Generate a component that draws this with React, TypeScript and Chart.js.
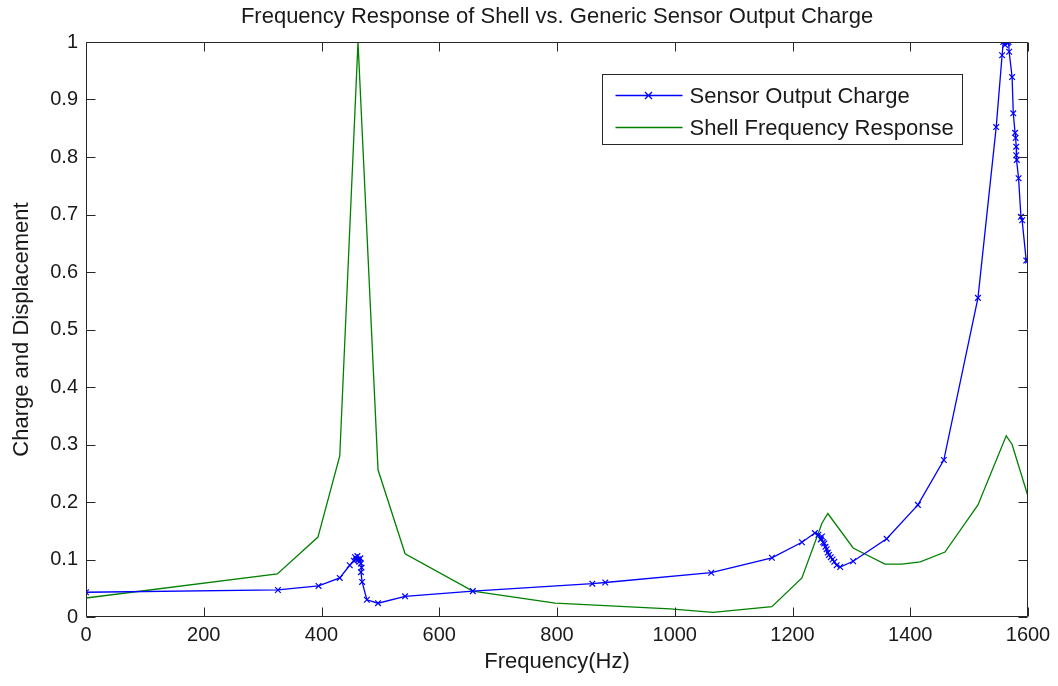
import { useEffect, useRef } from "react";
import { Chart, registerables } from "chart.js";

Chart.register(...registerables);

const TITLE = "Frequency Response of Shell vs. Generic Sensor Output Charge";
const X_TITLE = "Frequency(Hz)";
const Y_TITLE = "Charge and Displacement";
const SENSOR_LABEL = "Sensor Output Charge";
const SHELL_LABEL = "Shell Frequency Response";

const xTickValues = [0, 200, 400, 600, 800, 1000, 1200, 1400, 1600];
const yTickValues = [0, 0.1, 0.2, 0.3, 0.4, 0.5, 0.6, 0.7, 0.8, 0.9, 1];

const sensorFreq = [
  0, 326, 395, 431, 448, 455, 457, 459, 461, 463, 464, 466, 467, 468, 467, 469, 477, 496, 542, 657,
  860, 882, 1062, 1165, 1216, 1238, 1244, 1248, 1250, 1252, 1254, 1256, 1258, 1260, 1262, 1265, 1268,
  1271, 1275, 1281, 1303, 1360, 1413, 1457, 1515, 1546, 1556, 1558, 1561, 1563, 1565, 1567, 1568,
  1573, 1575, 1578, 1579, 1580, 1580, 1581, 1584, 1588, 1590, 1597, 1600,
];
const sensorCharge = [
  0.043, 0.047, 0.054, 0.068, 0.09, 0.098, 0.104, 0.1, 0.106, 0.1, 0.096, 0.102, 0.093, 0.086, 0.078,
  0.061, 0.03, 0.024, 0.036, 0.045, 0.058, 0.06, 0.077, 0.103, 0.13, 0.146, 0.143, 0.135, 0.14, 0.13,
  0.128, 0.122, 0.118, 0.112, 0.108, 0.104, 0.1, 0.096, 0.09, 0.087, 0.097, 0.136, 0.195, 0.273, 0.555,
  0.852, 0.977, 1.0, 0.995, 1.0, 0.998, 1.0, 0.983, 0.939, 0.876, 0.842, 0.833, 0.818, 0.803, 0.795,
  0.763, 0.696, 0.69, 0.62, 0.62,
];

const shellFreq = [
  0, 325, 394, 431, 462, 496, 542, 657, 797, 992, 1065, 1165, 1216, 1250, 1260, 1303, 1357, 1386, 1417,
  1459, 1515, 1563, 1573, 1600,
];
const shellResp = [
  0.033, 0.075, 0.139, 0.28, 1.0, 0.256, 0.11, 0.045, 0.024, 0.014, 0.008, 0.018, 0.068, 0.163, 0.18,
  0.12, 0.092, 0.092, 0.096, 0.113, 0.195, 0.315, 0.3, 0.21,
];

const FONT = "'Liberation Sans', Arial, Helvetica, sans-serif";
const TEXT = "#1a1a1a";
const AXIS = "#262626";
const BLUE = "#0000ff";
const GREEN = "#008000";

const matlabAxes = {
  id: "matlabAxes",
  afterDraw(chart: any) {
    const { ctx, chartArea: a, scales } = chart;
    const xs = scales.x;
    const ys = scales.y;
    const L = Math.round(a.left) + 0.5;
    const R = Math.round(a.right) - 0.5;
    const T = Math.round(a.top) + 0.5;
    const B = Math.round(a.bottom) - 0.5;
    const tick = 9;
    ctx.save();

    // title, centred over the axes
    ctx.fillStyle = TEXT;
    ctx.font = `22px ${FONT}`;
    ctx.textAlign = "center";
    ctx.textBaseline = "middle";
    ctx.fillText(TITLE, (a.left + a.right) / 2, 17);

    ctx.strokeStyle = AXIS;
    ctx.lineWidth = 1;
    ctx.beginPath();
    ctx.rect(L, T, R - L, B - T);
    for (const v of xTickValues) {
      const px = Math.round(xs.getPixelForValue(v)) + 0.5;
      ctx.moveTo(px, B);
      ctx.lineTo(px, B - tick);
      ctx.moveTo(px, T);
      ctx.lineTo(px, T + tick);
    }
    for (const v of yTickValues) {
      const py = Math.round(ys.getPixelForValue(v)) + 0.5;
      ctx.moveTo(L, py);
      ctx.lineTo(L + tick, py);
      ctx.moveTo(R, py);
      ctx.lineTo(R - tick, py);
    }
    ctx.stroke();

    // legend box
    const bw = 360;
    const bh = 70;
    const bx = Math.round(a.right) - 66 - bw + 0.5;
    const by = Math.round(a.top) + 32 + 0.5;
    ctx.fillStyle = "#ffffff";
    ctx.fillRect(bx, by, bw, bh);
    ctx.strokeStyle = AXIS;
    ctx.strokeRect(bx, by, bw, bh);
    const entries = [
      { label: SENSOR_LABEL, color: BLUE, marker: true, y: by + 21 },
      { label: SHELL_LABEL, color: GREEN, marker: false, y: by + 53 },
    ];
    ctx.font = `22px ${FONT}`;
    ctx.textBaseline = "middle";
    ctx.textAlign = "left";
    for (const e of entries) {
      ctx.strokeStyle = e.color;
      ctx.lineWidth = 1.3;
      ctx.beginPath();
      ctx.moveTo(bx + 13, e.y);
      ctx.lineTo(bx + 80, e.y);
      if (e.marker) {
        const cx = bx + 46;
        const r = 3.5;
        ctx.moveTo(cx - r, e.y - r);
        ctx.lineTo(cx + r, e.y + r);
        ctx.moveTo(cx - r, e.y + r);
        ctx.lineTo(cx + r, e.y - r);
      }
      ctx.stroke();
      ctx.fillStyle = TEXT;
      ctx.fillText(e.label, bx + 87, e.y + 1);
    }
    ctx.restore();
  },
};

export default function App() {
  const ref = useRef<HTMLCanvasElement | null>(null);
  useEffect(() => {
    document.body.style.margin = "0";
    document.body.style.overflow = "hidden";
    const canvas = ref.current;
    if (!canvas) return;
    const sensorData = sensorFreq.map((f, i) => ({ x: f, y: sensorCharge[i] }));
    const shellData = shellFreq.map((f, i) => ({ x: f, y: shellResp[i] }));
    const chart = new Chart(canvas, {
      type: "line",
      data: {
        datasets: [
          {
            label: SENSOR_LABEL,
            data: sensorData,
            borderColor: BLUE,
            backgroundColor: BLUE,
            borderWidth: 1.3,
            pointStyle: "crossRot",
            pointRadius: 4,
            pointBorderWidth: 1.2,
            pointBorderColor: BLUE,
            tension: 0,
            fill: false,
          },
          {
            label: SHELL_LABEL,
            data: shellData,
            borderColor: GREEN,
            backgroundColor: GREEN,
            borderWidth: 1.3,
            pointRadius: 0,
            tension: 0,
            fill: false,
          },
        ],
      },
      options: {
        animation: false,
        responsive: false,
        maintainAspectRatio: false,
        layout: { padding: { left: 0, right: 30, top: 42, bottom: 0 } },
        plugins: {
          legend: { display: false },
          tooltip: { enabled: false },
          title: { display: false },
        },
        scales: {
          x: {
            type: "linear",
            min: 0,
            max: 1600,
            afterFit: (s: any) => {
              s.height = 69;
            },
            afterBuildTicks: (s: any) => {
              s.ticks = xTickValues.map((v) => ({ value: v }));
            },
            grid: { display: false, drawTicks: false },
            border: { display: false },
            ticks: {
              color: TEXT,
              font: { family: FONT, size: 20 },
              padding: 6,
              maxRotation: 0,
              autoSkip: false,
              callback: (v: any) => String(v),
            },
            title: {
              display: true,
              text: X_TITLE,
              color: TEXT,
              font: { family: FONT, size: 22 },
              padding: { top: 0, bottom: 11 },
            },
          },
          y: {
            type: "linear",
            min: 0,
            max: 1,
            afterFit: (s: any) => {
              s.width = 86;
            },
            afterBuildTicks: (s: any) => {
              s.ticks = yTickValues.map((v) => ({ value: v }));
            },
            grid: { display: false, drawTicks: false },
            border: { display: false },
            ticks: {
              color: TEXT,
              font: { family: FONT, size: 20 },
              padding: 8,
              autoSkip: false,
              callback: (v: any) => String(Math.round(Number(v) * 10) / 10),
            },
            title: {
              display: true,
              text: Y_TITLE,
              color: TEXT,
              font: { family: FONT, size: 22 },
              padding: { top: 9, bottom: 0 },
            },
          },
        },
      },
      plugins: [matlabAxes],
    });
    return () => chart.destroy();
  }, []);
  return (
    <div style={{ width: 1058, height: 686, background: "#fff" }}>
      <canvas ref={ref} width={1058} height={686} style={{ display: "block" }} />
    </div>
  );
}
